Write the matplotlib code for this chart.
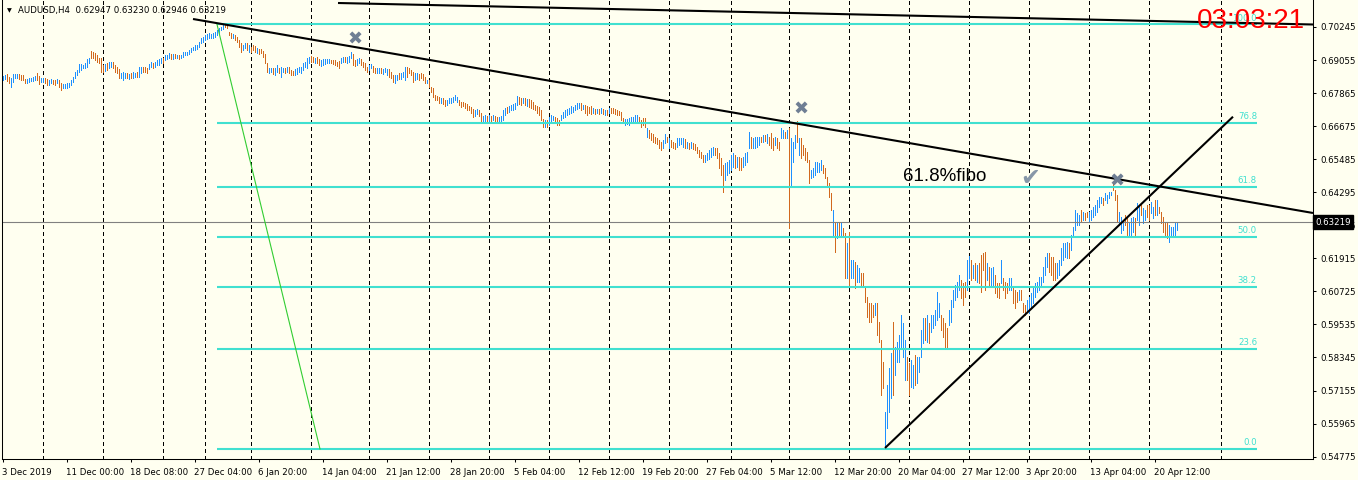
import numpy as np
import matplotlib
matplotlib.use('Agg')
import matplotlib.pyplot as plt
import matplotlib.transforms as mtransforms

# H4 bars, prices in 1/10000
high = [
    6848, 6850, 6856, 6846, 6840, 6854, 6856, 6854, 6854, 6852,
    6850, 6838, 6838, 6840, 6840, 6844, 6848, 6858, 6848, 6842,
    6840, 6840, 6838, 6834, 6836, 6834, 6834, 6836, 6834, 6822,
    6820, 6820, 6822, 6822, 6834, 6846, 6862, 6870, 6892, 6890,
    6886, 6894, 6908, 6912, 6938, 6934, 6932, 6922, 6914, 6912,
    6888, 6890, 6894, 6900, 6900, 6898, 6886, 6882, 6872, 6858,
    6862, 6860, 6858, 6854, 6858, 6862, 6858, 6864, 6882, 6880,
    6882, 6882, 6878, 6890, 6900, 6894, 6900, 6904, 6908, 6912,
    6912, 6922, 6924, 6932, 6928, 6926, 6928, 6924, 6924, 6922,
    6934, 6934, 6936, 6942, 6948, 6954, 6958, 6960, 6972, 6984,
    6990, 6996, 7000, 7002, 6998, 7002, 7008, 7014, 7020, 7026,
    7032, 7034, 7032, 7008, 7002, 6998, 6996, 6990, 6978, 6966,
    6960, 6966, 6966, 6960, 6954, 6960, 6956, 6948, 6944, 6944,
    6938, 6926, 6894, 6876, 6878, 6876, 6876, 6888, 6876, 6882,
    6878, 6878, 6882, 6880, 6870, 6866, 6872, 6876, 6882,
    6882, 6894, 6900, 6912, 6918, 6920, 6918, 6912, 6916, 6908,
    6906, 6908, 6910, 6908, 6908, 6906, 6904, 6904, 6900, 6902,
    6912, 6918, 6918, 6916, 6920, 6936, 6928, 6906, 6908, 6912,
    6908, 6900, 6894, 6882, 6888, 6890, 6884, 6876, 6876, 6878,
    6878, 6872, 6878, 6872, 6872, 6864, 6852, 6852, 6852, 6858,
    6858, 6864, 6882, 6882, 6876, 6870, 6864, 6858, 6858, 6854,
    6860, 6856, 6846, 6834, 6834, 6810, 6804, 6780, 6776, 6774,
    6768, 6768, 6762, 6762, 6768, 6768, 6774, 6780, 6774, 6762,
    6756, 6756, 6752, 6748, 6740, 6736, 6728, 6724, 6728, 6726,
    6714, 6704, 6708, 6704, 6708, 6704, 6708, 6704, 6700, 6702,
    6704, 6726, 6732, 6736, 6740, 6744, 6748, 6750, 6776, 6774,
    6768, 6768, 6768, 6764, 6764, 6760, 6756, 6744, 6740, 6736,
    6726, 6692, 6690, 6690, 6702, 6708, 6704, 6700, 6696, 6690,
    6708, 6720, 6726, 6728, 6732, 6740, 6738, 6744, 6750, 6752,
    6752, 6744, 6744, 6740, 6738, 6740, 6732, 6728, 6728, 6728,
    6732, 6730, 6726, 6726, 6732, 6734, 6732, 6730, 6726, 6722,
    6720, 6696, 6694, 6694, 6696, 6702, 6702, 6708, 6706, 6702,
    6690, 6696, 6698, 6660, 6654, 6642, 6638, 6630, 6626, 6618,
    6612, 6618, 6638, 6630, 6624, 6618, 6612, 6608, 6624, 6624,
    6624, 6624, 6622, 6612, 6606, 6610, 6606, 6602, 6594, 6582,
    6576, 6564, 6564, 6570, 6582, 6588, 6594, 6590, 6588, 6570,
    6552, 6528, 6534, 6540, 6546, 6564, 6570, 6564, 6558, 6558,
    6552, 6558, 6570, 6576, 6648, 6630, 6624, 6630, 6630, 6630,
    6630, 6634, 6636, 6638, 6630, 6642, 6624, 6630, 6624, 6612,
    6660, 6654, 6648, 6654, 6660, 6624, 6612, 6636, 6686, 6624,
    6624, 6600, 6588, 6576, 6546, 6510, 6518, 6540, 6540, 6534,
    6546, 6528, 6516, 6486, 6462, 6426, 6366, 6324, 6324, 6324,
    6318, 6300, 6282, 6246, 6288, 6186, 6186, 6180, 6168, 6156,
    6138, 6138, 6090, 6054, 6030, 6030, 6024, 6030, 6030, 5964,
    5898, 5820, 5640, 5736, 5796, 5850, 5964, 5874, 5892, 5916,
    5988, 5958, 5898, 5838, 5814, 5826, 5808, 5844, 5838, 5838,
    5934, 5976, 5976, 5988, 5958, 5988, 5988, 6006, 6072, 6030,
    5988, 5976, 5958, 5940, 6006, 6042, 6078, 6096, 6108, 6132,
    6114, 6102, 6108, 6186, 6200, 6186, 6168, 6174, 6168, 6174,
    6204, 6210, 6216, 6174, 6162, 6156, 6162, 6132, 6102, 6102,
    6186, 6120, 6108, 6102, 6120, 6120, 6090, 6078, 6072, 6078,
    6078, 6030, 6024, 6042, 6054, 6066, 6084, 6102, 6108, 6126,
    6126, 6162, 6198, 6210, 6210, 6198, 6198, 6174, 6174, 6186,
    6228, 6246, 6246, 6252, 6246, 6276, 6306, 6366, 6354, 6348,
    6366, 6360, 6354, 6360, 6360, 6366, 6378, 6384, 6402, 6414,
    6414, 6408, 6426, 6420, 6432, 6432, 6462, 6438, 6420, 6360,
    6342, 6330, 6348, 6336, 6324, 6336, 6342, 6336, 6390, 6378,
    6384, 6372, 6366, 6384, 6384, 6396, 6378, 6402, 6402, 6378,
    6360, 6342, 6324, 6318, 6312, 6306, 6306, 6318, 6323,
]
low = [
    6832, 6838, 6829, 6822, 6810, 6828, 6840, 6840, 6838, 6834,
    6832, 6822, 6822, 6828, 6830, 6830, 6834, 6834, 6820, 6828,
    6826, 6822, 6816, 6816, 6822, 6818, 6816, 6822, 6810, 6798,
    6806, 6804, 6806, 6810, 6816, 6828, 6840, 6852, 6864, 6870,
    6876, 6876, 6882, 6894, 6912, 6912, 6906, 6900, 6894, 6864,
    6864, 6866, 6870, 6876, 6882, 6878, 6862, 6858, 6840, 6840,
    6834, 6842, 6840, 6838, 6840, 6842, 6846, 6844, 6846, 6858,
    6864, 6864, 6858, 6872, 6882, 6878, 6882, 6886, 6888, 6894,
    6894, 6906, 6908, 6912, 6910, 6910, 6912, 6912, 6910, 6912,
    6918, 6922, 6924, 6928, 6934, 6940, 6942, 6944, 6954, 6966,
    6972, 6978, 6982, 6984, 6984, 6986, 6990, 6996, 7002, 7014,
    7018, 7026, 7020, 6994, 6984, 6984, 6978, 6972, 6954, 6936,
    6942, 6948, 6942, 6936, 6936, 6942, 6936, 6930, 6926, 6930,
    6918, 6894, 6864, 6858, 6862, 6854, 6852, 6864, 6858, 6846,
    6864, 6858, 6862, 6858, 6852, 6850, 6850, 6854, 6862,
    6858, 6870, 6882, 6876, 6894, 6900, 6900, 6894, 6894, 6888,
    6884, 6888, 6892, 6894, 6894, 6894, 6892, 6888, 6884, 6876,
    6894, 6900, 6900, 6896, 6900, 6912, 6888, 6884, 6888, 6894,
    6888, 6880, 6870, 6864, 6870, 6876, 6864, 6858, 6858, 6860,
    6860, 6856, 6864, 6852, 6846, 6840, 6828, 6824, 6832, 6836,
    6836, 6846, 6834, 6846, 6858, 6852, 6828, 6834, 6836, 6834,
    6840, 6832, 6822, 6822, 6810, 6792, 6774, 6762, 6760, 6752,
    6752, 6748, 6740, 6744, 6750, 6750, 6756, 6760, 6756, 6744,
    6738, 6740, 6732, 6726, 6724, 6716, 6702, 6704, 6712, 6704,
    6684, 6684, 6684, 6680, 6684, 6684, 6690, 6684, 6680, 6684,
    6684, 6690, 6708, 6716, 6720, 6726, 6726, 6728, 6744, 6748,
    6744, 6750, 6744, 6740, 6738, 6732, 6728, 6726, 6716, 6708,
    6690, 6666, 6666, 6664, 6672, 6684, 6688, 6678, 6672, 6672,
    6688, 6696, 6702, 6708, 6712, 6714, 6720, 6726, 6728, 6732,
    6726, 6728, 6716, 6708, 6716, 6712, 6714, 6712, 6714, 6712,
    6714, 6710, 6708, 6708, 6714, 6714, 6714, 6710, 6708, 6706,
    6690, 6678, 6672, 6674, 6672, 6684, 6678, 6684, 6686, 6684,
    6666, 6672, 6666, 6630, 6624, 6618, 6612, 6606, 6602, 6590,
    6582, 6588, 6606, 6612, 6588, 6594, 6588, 6586, 6594, 6598,
    6602, 6594, 6588, 6588, 6586, 6588, 6586, 6582, 6570, 6558,
    6552, 6540, 6540, 6546, 6550, 6558, 6564, 6564, 6552, 6516,
    6492, 6432, 6474, 6492, 6498, 6510, 6522, 6516, 6522, 6510,
    6510, 6522, 6528, 6540, 6588, 6588, 6588, 6588, 6594, 6600,
    6612, 6612, 6614, 6606, 6600, 6588, 6582, 6600, 6588, 6582,
    6624, 6624, 6624, 6624, 6300, 6456, 6540, 6588, 6612, 6564,
    6552, 6564, 6546, 6540, 6462, 6480, 6486, 6492, 6504, 6504,
    6510, 6498, 6480, 6450, 6414, 6366, 6276, 6216, 6264, 6276,
    6276, 6270, 6120, 6120, 6096, 6120, 6120, 6084, 6108, 6108,
    6096, 6090, 6036, 5982, 5964, 5964, 5982, 5988, 5916, 5892,
    5700, 5724, 5508, 5580, 5640, 5688, 5700, 5772, 5820, 5820,
    5874, 5838, 5754, 5754, 5700, 5730, 5724, 5736, 5742, 5784,
    5838, 5886, 5898, 5892, 5886, 5928, 5940, 5952, 5970, 5982,
    5934, 5910, 5868, 5874, 5952, 5964, 6018, 6042, 6054, 6078,
    6048, 6024, 6054, 6078, 6120, 6114, 6120, 6114, 6108, 6102,
    6072, 6150, 6078, 6114, 6090, 6090, 6096, 6066, 6054, 6048,
    6102, 6078, 6048, 6066, 6078, 6078, 6030, 6012, 6036, 6042,
    6042, 6000, 5988, 6000, 5994, 6018, 6030, 6054, 6072, 6078,
    6096, 6108, 6132, 6162, 6144, 6132, 6114, 6114, 6120, 6132,
    6168, 6186, 6198, 6192, 6192, 6222, 6270, 6294, 6312, 6312,
    6324, 6330, 6330, 6342, 6324, 6330, 6342, 6348, 6360, 6378,
    6390, 6384, 6402, 6390, 6408, 6420, 6438, 6402, 6324, 6312,
    6282, 6294, 6312, 6270, 6276, 6270, 6288, 6276, 6330, 6312,
    6348, 6318, 6330, 6342, 6330, 6354, 6336, 6348, 6348, 6354,
    6318, 6288, 6276, 6264, 6252, 6270, 6270, 6276, 6295,
]
# b = bull bar, r = bear bar
direction = (
    "bbrrbbbbrr" "rrbbbbbrrb" "brrbbrrbrr" "bbbbbbbbbb" "bbbbrrrrrr"
    "rbrbbrrrrb" "bbrbrbbrbb" "rrrbbrbbbb" "rbbbrbrbrb" "bbbbbbbbbb"
    "bbbbbbbbbb" "brrrrbrrrr" "bbrbrrrbrr" "rrrbbrbbrb" "brbrrrbbb"
    "bbbbbrrbrr" "bbbbbrrrrr" "bbrbbbrrbb" "rrrrbbrrbb" "rbbbrrrbbr"
    "bbbrrrrbbr" "rrrbrrrrrr" "brrbbbbbbr" "rrrrrrrbbr" "rbbrbrbrrb"
    "bbbrbbbbbr" "rbrbrrrrrr" "rrbrbbbrrr" "bbbbbbbbbb" "rbrrrrbrbr"
    "brbrbrrrrr" "rrbbbbbbbr" "rrrbrrrrrr" "rbbrbrrrbb" "bbrbrbrrrr"
    "rrbbbbbrrr" "rrbbbbbrbr" "rbbbbrbbbb" "rbrbrrrbrr" "bbrbrbbbrb"
    "rrrrrbbbbb" "brrrrrbrbr" "brrbrbbrbb" "rrrrrrrbrr" "rrbbbbrbbb"
    "bbbrrbbrbb" "bbrbrbbbbb" "rrrrbbbbbb" "rrrbbrbrbr" "rrrbrbbrrr"
    "brrrbbrrrb" "rrrbbbbbbb" "bbbbrrrrbb" "bbbbrbbbbb" "rbrrbbbbbb"
    "brbbbbrrrb" "bbrrbbbrbb" "rbbrrbbrbr" "rrrrbbbbb"
)

time_labels = ["3 Dec 2019", "11 Dec 00:00", "18 Dec 08:00", "27 Dec 04:00",
               "6 Jan 20:00", "14 Jan 04:00", "21 Jan 12:00", "28 Jan 20:00",
               "5 Feb 04:00", "12 Feb 12:00", "19 Feb 20:00", "27 Feb 04:00",
               "5 Mar 12:00", "12 Mar 20:00", "20 Mar 04:00", "27 Mar 12:00",
               "3 Apr 20:00", "13 Apr 04:00", "20 Apr 12:00"]
label_bars = [0, 32, 64, 96, 128, 160, 192, 224, 256, 288, 320, 352,
              384, 416, 448, 480, 512, 544, 576]
grid_bars = [20, 50, 80, 101, 124, 154, 183, 213, 243, 273, 303, 333,
             364, 393, 423, 453, 483, 513, 543, 573, 609]
price_ticks = [0.54775, 0.55965, 0.57155, 0.58345, 0.59535, 0.60725, 0.61915,
               0.63105, 0.64295, 0.65485, 0.66675, 0.67865, 0.69055, 0.70245]

last_price = 0.63219
fibo_high = 0.7034
fibo_low = 0.5505
fibo_levels = [0.0, 23.6, 38.2, 50.0, 61.8, 76.8, 100.0]
fibo_span = (107.25, 627.25)

down_line = ([95.25, 655.25], [0.70533, 0.63548])
top_line = ([167.75, 655.25], [0.71109, 0.70335])
up_line = ([441.25, 615.25], [0.55086, 0.67015])
fibo_diag = ([107.25, 158.75], [0.7034, 0.5505])
cross_marks = [(176.25, 0.69777), (399.25, 0.67256), (557.25, 0.64664)]
check_mark = (513.75, 0.64808)

bg = '#FFFFF0'
W, H = 1358, 480
fig = plt.figure(figsize=(W / 100, H / 100), dpi=100, facecolor=bg)
ax = fig.add_axes([2 / W, 21 / H, 1311 / W, 459 / H], facecolor=bg)
ax.set_xlim(-0.25, 655.25)
ax.set_ylim(0.54690, 0.71217)

# weekly dashed grid
for g in grid_bars:
    ax.axvline(g, color='black', lw=0.72, ls=(0, (3, 3)), zorder=1,
               antialiased=False)

# bars
x = np.arange(len(high))
hi = np.array(high) / 10000
lo = np.array(low) / 10000
cols = ['#1E90FF' if c == 'b' else '#D2691E' for c in direction]
ax.vlines(x, lo, hi, colors=cols, lw=0.5, zorder=2, antialiased=False)

# bid line
ax.axhline(last_price, color='#808080', lw=0.8, zorder=2.5)

# fibo retracement
for lvl in fibo_levels:
    p = fibo_low + (fibo_high - fibo_low) * lvl / 100
    ax.plot(fibo_span, [p, p], color='#40E0D0', lw=1.5, zorder=3,
            solid_capstyle='butt')
    ax.annotate('%.1f' % lvl, (fibo_span[1], p), xytext=(0, 1.2),
                textcoords='offset points', ha='right', va='bottom',
                color='#40E0D0', fontsize=6.2, zorder=3)
ax.plot(*fibo_diag, color='#32CD32', lw=0.8, zorder=3)

# trend lines
for ln in (down_line, top_line, up_line):
    ax.plot(*ln, color='black', lw=1.5, zorder=4, solid_capstyle='butt')

for cx, cy in cross_marks:
    ax.text(cx, cy, '\u2716', color='#6F7F94', fontsize=13, ha='center',
            va='center', zorder=5)
ax.text(check_mark[0], check_mark[1], '\u2714', color='#8797A8', fontsize=17,
        ha='center', va='center', zorder=5)
ax.text(450.25, 0.64844, '61.8%fibo', family='Liberation Sans', fontsize=13.5,
        ha='left', va='center', color='black', zorder=5)

# axes styling
ax.spines['top'].set_visible(False)
for s in ('left', 'bottom', 'right'):
    ax.spines[s].set_linewidth(0.75)
    ax.spines[s].set_color('black')
ax.yaxis.tick_right()
ax.set_yticks(price_ticks)
ax.set_yticklabels(['%.5f' % v for v in price_ticks])
ax.set_xticks(label_bars)
ax.set_xticklabels(time_labels)
for lbl in ax.get_xticklabels():
    lbl.set_ha('left')
ax.tick_params(axis='both', direction='out', length=2.5, width=0.75,
               labelsize=6.2, colors='black')
ax.tick_params(axis='y', pad=2.5)
ax.tick_params(axis='x', pad=4)

trans = mtransforms.blended_transform_factory(ax.transAxes, ax.transData)
ax.text(1.0015, last_price, '%.5f' % last_price, transform=trans,
        ha='left', va='center', color='white', fontsize=6.2, zorder=10,
        clip_on=False,
        bbox=dict(boxstyle='square,pad=0.25', fc='black', ec='black'))

# header and timer
fig.text(7 / W, 1 - 10.5 / H, '\u25BC', fontsize=4.5, va='center', ha='left')
fig.text(18 / W, 1 - 10 / H, 'AUDUSD,H4  0.62947 0.63230 0.62946 0.63219',
         fontsize=6.2, va='center', ha='left')
fig.text(1305 / W, 1 - 21 / H, '03:03:21', family='Liberation Sans',
         fontsize=20, color='red', ha='right', va='center')

fig.savefig('out.png', dpi=100, facecolor=bg)
